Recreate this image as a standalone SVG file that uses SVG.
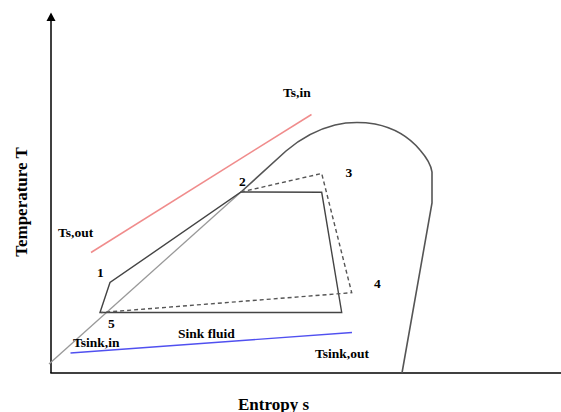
<svg xmlns="http://www.w3.org/2000/svg" width="561" height="412" viewBox="0 0 561 412">
<style>
text{font-family:"Liberation Serif","Times New Roman",serif;font-weight:bold;fill:#000}
.lbl{font-size:13.5px}
.ax{font-size:17px}
.axis{stroke:#000;stroke-width:1.5;fill:none}
.dome{stroke:#555;stroke-width:1.6;fill:none}
.liq{stroke:#999;stroke-width:1.3;fill:none}
.cyc{stroke:#444;stroke-width:1.4;fill:none;stroke-linejoin:miter}
.dash{stroke:#555;stroke-width:1.4;fill:none;stroke-dasharray:4,3}
.src{stroke:#f08c8c;stroke-width:1.5;fill:none}
.sink{stroke:#5050f0;stroke-width:1.3;fill:none}
</style>
<defs>
<marker id="arr" markerWidth="10" markerHeight="10" refX="5" refY="7" orient="auto" markerUnits="userSpaceOnUse" viewBox="0 0 10 10">
<path d="M0,10 L5,0 L10,10 Z" fill="#000" transform="rotate(0)"/>
</marker>
</defs>
<rect width="561" height="412" fill="#fff"/>
<g id="axes">
<line class="axis" x1="51" y1="373" x2="51" y2="20"/>
<path d="M46.5,21 L51,12.5 L55.5,21 Z" fill="#000"/>
<line class="axis" x1="50.3" y1="373" x2="561" y2="373"/>
</g>
<g id="dome">
<line class="liq" x1="49" y1="364" x2="241" y2="192"/>
<path class="dome" d="M241,192 L286,151 C300,139 315,130 335,125 C348,122 362,122 375,124 C395,128 410,138 420,150 C427,158 431,165 432,172 L432,203 L402,373"/>
</g>
<g id="connectors">
<line class="src" x1="91" y1="252.5" x2="311.5" y2="114.5"/>
<line class="sink" x1="70.5" y1="353" x2="352" y2="332.5"/>
<path class="cyc" d="M100,312.5 L110,282.5 L241,192 L321.7,192.3 L341.7,312.5 Z"/>
<path class="dash" d="M241,192 L321.7,173.5 L351.7,292.7 L101,312.5"/>
</g>
<g id="labels">
<text class="lbl" x="283" y="97">Ts,in</text>
<text class="lbl" x="58" y="236.5">Ts,out</text>
<text class="lbl" x="97" y="277">1</text>
<text class="lbl" x="239" y="186">2</text>
<text class="lbl" x="345.5" y="177">3</text>
<text class="lbl" x="374" y="287.5">4</text>
<text class="lbl" x="108" y="328">5</text>
<text class="lbl" x="178" y="337.5">Sink fluid</text>
<text class="lbl" x="73" y="347">Tsink,in</text>
<text class="lbl" x="315" y="357.5">Tsink,out</text>
<text class="ax" x="238" y="409.5">Entropy s</text>
<text class="ax" transform="translate(27,202) rotate(-90)" text-anchor="middle">Temperature T</text>
</g>
</svg>
